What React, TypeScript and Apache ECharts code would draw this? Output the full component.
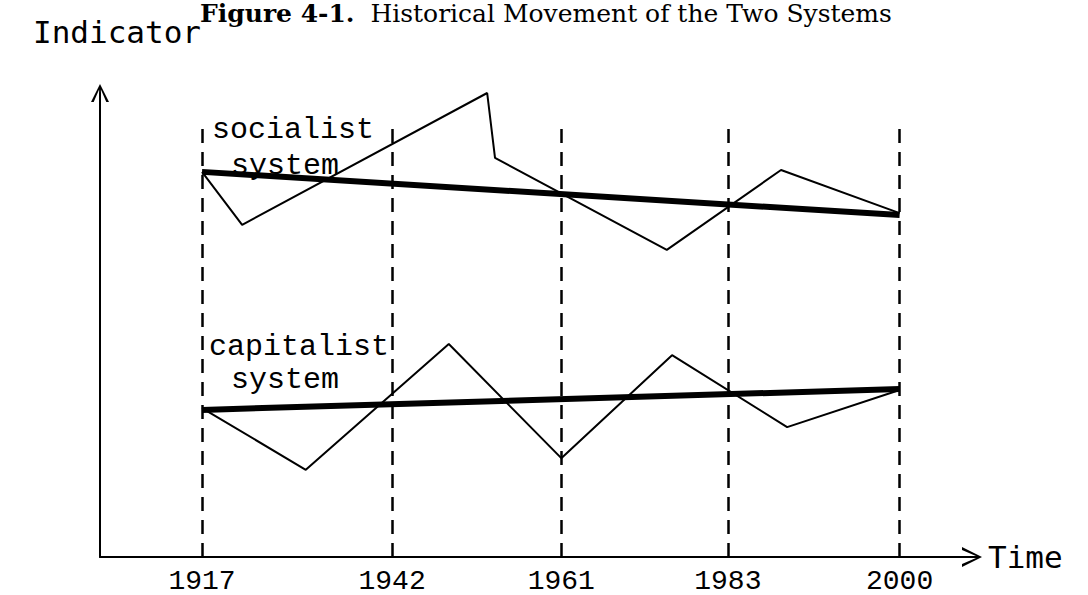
import { useEffect, useRef } from 'react';
import * as echarts from 'echarts';

// Time axis is schematic (not to scale): positions along the axis, 0..100
const yearLabels = ['1917', '1942', '1961', '1983', '2000'];
const yearPos = [11.7, 33.5, 52.9, 72.0, 91.7];

// Indicator (schematic units 0..100)
const socialistX = [11.7, 16.3, 44.4, 45.3, 65.0, 78.1, 91.7];
const socialistY = [83.0, 71.6, 100, 86.0, 66.2, 83.4, 74.1];
const socialistTrendX = [11.7, 91.7];
const socialistTrendY = [83.0, 73.7];

const capitalistX = [11.7, 23.6, 40.0, 52.9, 65.6, 78.8, 91.7];
const capitalistY = [32.1, 18.8, 45.9, 21.3, 43.5, 28.0, 36.0];
const capitalistTrendX = [11.7, 91.7];
const capitalistTrendY = [31.7, 36.2];

const dashTop = 94;

const zip = (xs: number[], ys: number[]) => xs.map((x, i) => [x, ys[i]]);

const arrowPath =
  'path://M0,20 L10,0 L20,20 L17,20 L11,6 L11,20 L9,20 L9,6 L3,20 Z';

export default function App() {
  const ref = useRef<HTMLDivElement>(null);
  useEffect(() => {
    if (!ref.current) return;
    const chart = echarts.init(ref.current, undefined, { renderer: 'svg' });
    const mono = 'Liberation Mono';
    const sansMono = 'DejaVu Sans Mono';
    chart.setOption({
      animation: false,
      backgroundColor: '#ffffff',
      title: {
        text: '{b|Figure 4-1.}{n|  Historical Movement of the Two Systems}',
        left: 200,
        top: 0,
        padding: 0,
        textStyle: {
          fontFamily: 'DejaVu Serif',
          fontSize: 25,
          rich: {
            b: { fontFamily: 'DejaVu Serif', fontWeight: 'bold', fontSize: 25, color: '#000', lineHeight: 26 },
            n: { fontFamily: 'DejaVu Serif', fontWeight: 'normal', fontSize: 25, color: '#000', lineHeight: 26 },
          },
        },
      },
      grid: { left: 100, right: 116, top: 93, bottom: 38, containLabel: false },
      xAxis: {
        type: 'value',
        min: 0,
        max: 100,
        name: 'Time',
        nameLocation: 'end',
        nameGap: 16,
        nameTextStyle: { fontFamily: sansMono, fontSize: 31, color: '#000', verticalAlign: 'middle' },
        axisLine: {
          show: true,
          lineStyle: { color: '#000', width: 2 },
          symbol: ['none', arrowPath],
          symbolSize: [30, 20],
        },
        axisTick: { show: false },
        splitLine: { show: false },
        axisLabel: {
          customValues: yearPos,
          margin: 10,
          fontFamily: mono,
          fontSize: 28,
          color: '#000',
          formatter: (v: number) => {
            const i = yearPos.findIndex((p) => Math.abs(p - v) < 1e-6);
            return i >= 0 ? yearLabels[i] : '';
          },
        },
      },
      yAxis: {
        type: 'value',
        min: 0,
        max: 100,
        axisLine: {
          show: true,
          lineStyle: { color: '#000', width: 2 },
          symbol: ['none', arrowPath],
          symbolSize: [18, 26],
        },
        axisTick: { show: false },
        splitLine: { show: false },
        axisLabel: { show: false },
      },
      graphic: [
        {
          type: 'text',
          x: 33,
          y: 32,
          style: { text: 'Indicator', fontFamily: sansMono, fontSize: 31, fill: '#000', verticalAlign: 'middle' },
        },
        {
          type: 'text',
          x: 212,
          y: 130,
          style: { text: 'socialist', fontFamily: mono, fontSize: 30, fill: '#000', verticalAlign: 'middle' },
        },
        {
          type: 'text',
          x: 231,
          y: 166,
          style: { text: 'system', fontFamily: mono, fontSize: 30, fill: '#000', verticalAlign: 'middle' },
        },
        {
          type: 'text',
          x: 209,
          y: 347,
          style: { text: 'capitalist', fontFamily: mono, fontSize: 30, fill: '#000', verticalAlign: 'middle' },
        },
        {
          type: 'text',
          x: 231,
          y: 380,
          style: { text: 'system', fontFamily: mono, fontSize: 30, fill: '#000', verticalAlign: 'middle' },
        },
      ],
      series: [
        {
          name: 'socialist system',
          type: 'line',
          data: zip(socialistX, socialistY),
          symbol: 'none',
          lineStyle: { color: '#000', width: 2 },
          z: 3,
          markLine: {
            silent: true,
            symbol: ['none', 'none'],
            label: { show: false },
            lineStyle: { color: '#000', width: 2.5, type: [14, 9] },
            data: yearPos.map((p) => [{ coord: [p, 0] }, { coord: [p, dashTop] }]),
          },
        },
        {
          name: 'socialist trend',
          type: 'line',
          data: zip(socialistTrendX, socialistTrendY),
          symbol: 'none',
          lineStyle: { color: '#000', width: 6 },
          z: 4,
        },
        {
          name: 'capitalist system',
          type: 'line',
          data: zip(capitalistX, capitalistY),
          symbol: 'none',
          lineStyle: { color: '#000', width: 2 },
          z: 3,
        },
        {
          name: 'capitalist trend',
          type: 'line',
          data: zip(capitalistTrendX, capitalistTrendY),
          symbol: 'none',
          lineStyle: { color: '#000', width: 6 },
          z: 4,
        },
      ],
    });
    return () => chart.dispose();
  }, []);
  return (
    <div
      ref={ref}
      style={{ position: 'absolute', left: 0, top: 0, width: 1088, height: 595 }}
    />
  );
}
